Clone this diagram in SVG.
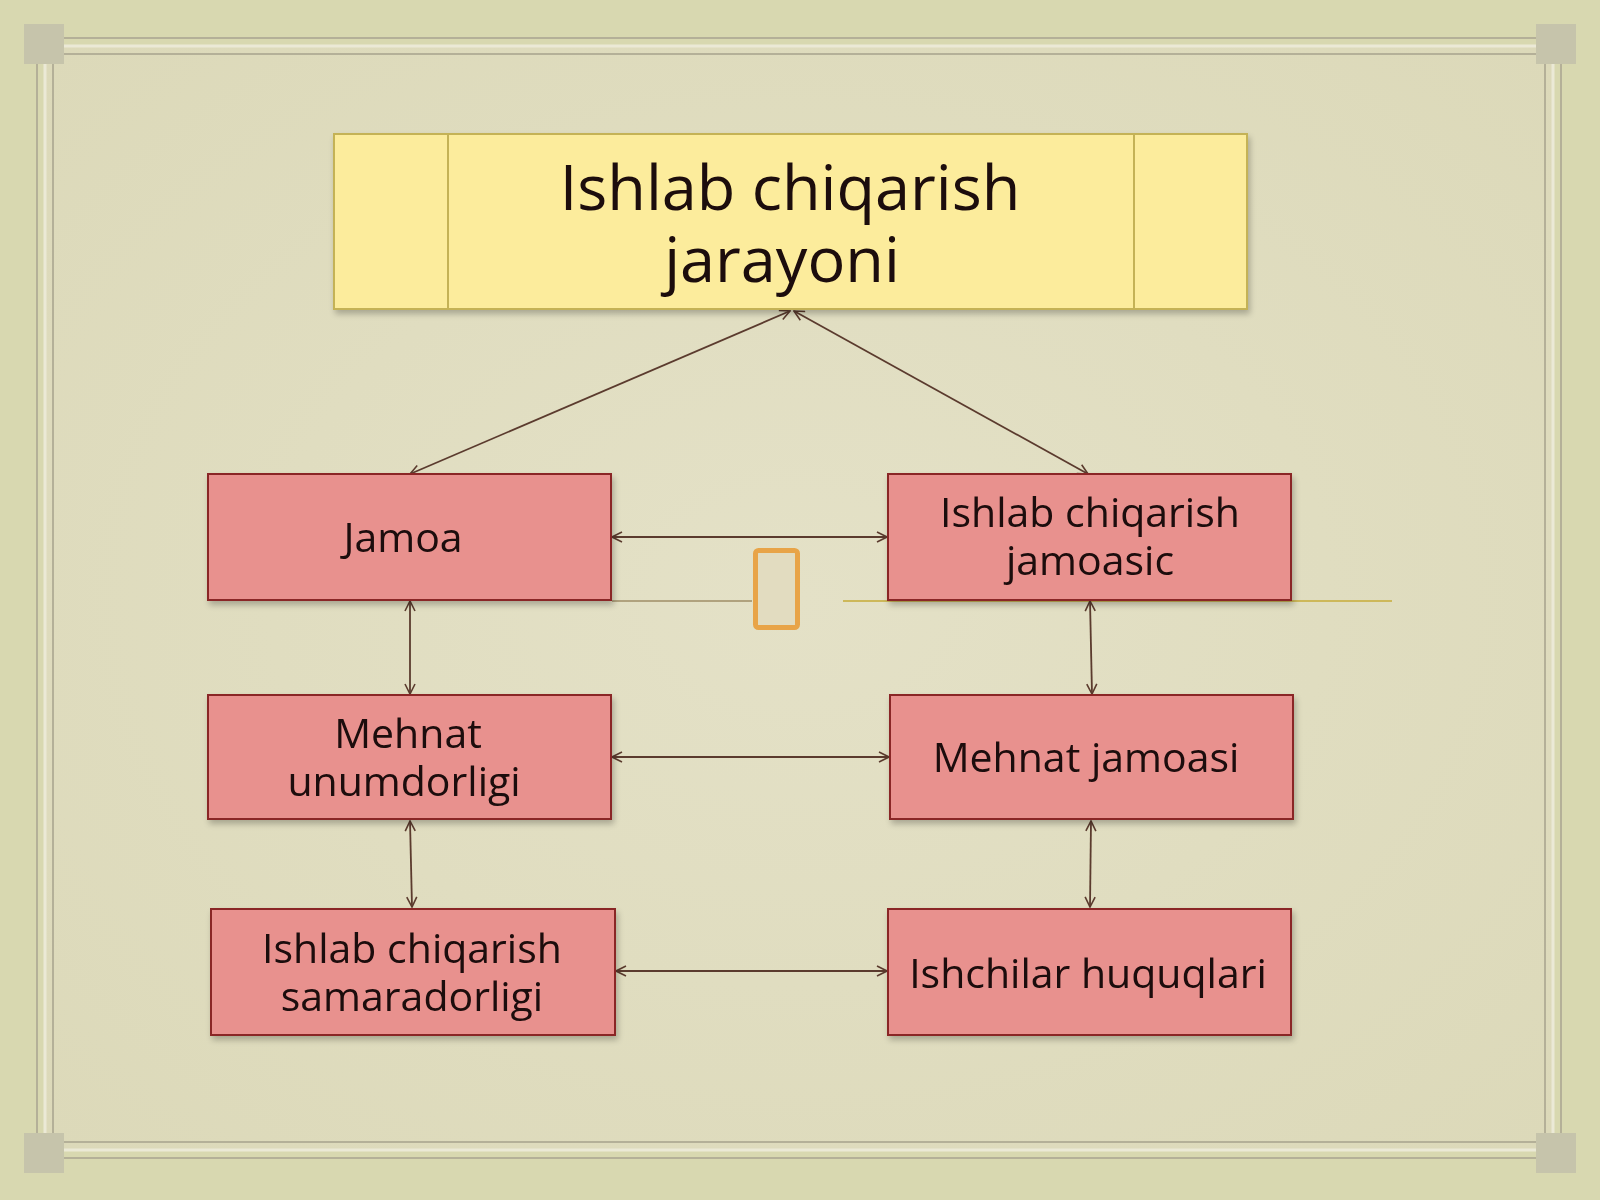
<svg xmlns="http://www.w3.org/2000/svg" width="1600" height="1200" viewBox="0 0 1600 1200">
<defs>
<radialGradient id="bg" cx="50%" cy="50%" r="70%">
<stop offset="0" stop-color="#e4e1c7"/>
<stop offset="1" stop-color="#dcd9b9"/>
</radialGradient>
<marker id="ar" viewBox="0 0 12 12" refX="11" refY="6" markerWidth="12" markerHeight="12" markerUnits="userSpaceOnUse" orient="auto-start-reverse">
<path d="M1,1 L11,6 L1,11" fill="none" stroke="#5b3b2e" stroke-width="1.6"/>
</marker>
<filter id="sh" x="-5%" y="-5%" width="110%" height="115%">
<feGaussianBlur in="SourceAlpha" stdDeviation="3"/>
<feOffset dx="2" dy="4"/>
<feComponentTransfer><feFuncA type="linear" slope="0.25"/></feComponentTransfer>
<feMerge><feMergeNode/><feMergeNode in="SourceGraphic"/></feMerge>
</filter>
</defs>
<style>
.red{fill:#e8918e;stroke:#8a2626;stroke-width:2}
.yel{fill:#fcec9c;stroke:#c4b257;stroke-width:2}
.t{font-family:"Open Sans","Noto Sans","DejaVu Sans",sans-serif;fill:#1a0a0a;text-anchor:middle}
.tb{font-size:41px}
.tt{font-size:63px}
.c{fill:none;stroke:#5b3b2e;stroke-width:1.8;marker-start:url(#ar);marker-end:url(#ar)}
.fr{fill:none;stroke:#b4b098;stroke-width:2}
.frl{fill:none;stroke:#ebe9d6;stroke-width:3}
.cor{fill:#c6c4ab}
</style>
<rect width="1600" height="1200" fill="#d8d8b0"/>
<rect x="45" y="46" width="1508" height="1104" fill="url(#bg)"/>
<g id="frame">
<rect x="37" y="38" width="1524" height="1120" class="fr"/>
<rect x="45" y="46" width="1508" height="1104" class="frl"/>
<rect x="53" y="54" width="1492" height="1088" class="fr"/>
<rect x="24" y="24" width="40" height="40" class="cor"/>
<rect x="1536" y="24" width="40" height="40" class="cor"/>
<rect x="24" y="1133" width="40" height="40" class="cor"/>
<rect x="1536" y="1133" width="40" height="40" class="cor"/>
</g>
<g id="decor">
<line x1="612" y1="601" x2="752" y2="601" stroke="#b0a27e" stroke-width="2"/>
<line x1="843" y1="601" x2="1392" y2="601" stroke="#cdb85a" stroke-width="2"/>
<rect x="755.5" y="550.5" width="42" height="77" rx="3" fill="#e2dcc0" stroke="#e8a448" stroke-width="5"/>
</g>
<g id="connectors">
<line class="c" x1="790" y1="311" x2="410" y2="474"/>
<line class="c" x1="794" y1="311" x2="1088" y2="474"/>
<line class="c" x1="612" y1="537" x2="887" y2="537"/>
<line class="c" x1="410" y1="601" x2="410" y2="694"/>
<line class="c" x1="1090" y1="601" x2="1092" y2="694"/>
<line class="c" x1="612" y1="757" x2="889" y2="757"/>
<line class="c" x1="410" y1="821" x2="412" y2="907"/>
<line class="c" x1="1091" y1="821" x2="1090" y2="907"/>
<line class="c" x1="616" y1="971" x2="887" y2="971"/>
</g>
<g id="n_title" filter="url(#sh)">
<rect x="334" y="134" width="913" height="175" class="yel"/>
<line x1="448" y1="134" x2="448" y2="309" stroke="#c4b257" stroke-width="2"/>
<line x1="1134" y1="134" x2="1134" y2="309" stroke="#c4b257" stroke-width="2"/>
<text class="t tt" x="790" y="210">Ishlab chiqarish</text>
<text class="t tt" x="782" y="282">jarayoni</text>
</g>
<g id="n_jamoa" filter="url(#sh)">
<rect x="208" y="474" width="403" height="126" class="red"/>
<text class="t tb" x="403" y="552">Jamoa</text>
</g>
<g id="n_ijamoasic" filter="url(#sh)">
<rect x="888" y="474" width="403" height="126" class="red"/>
<text class="t tb" x="1090" y="527">Ishlab chiqarish</text>
<text class="t tb" x="1090" y="575">jamoasic</text>
</g>
<g id="n_unum" filter="url(#sh)">
<rect x="208" y="695" width="403" height="124" class="red"/>
<text class="t tb" x="408" y="748">Mehnat</text>
<text class="t tb" x="404" y="796">unumdorligi</text>
</g>
<g id="n_mjamoasi" filter="url(#sh)">
<rect x="890" y="695" width="403" height="124" class="red"/>
<text class="t tb" x="1086" y="772">Mehnat jamoasi</text>
</g>
<g id="n_samara" filter="url(#sh)">
<rect x="211" y="909" width="404" height="126" class="red"/>
<text class="t tb" x="412" y="963">Ishlab chiqarish</text>
<text class="t tb" x="412" y="1011">samaradorligi</text>
</g>
<g id="n_ishchilar" filter="url(#sh)">
<rect x="888" y="909" width="403" height="126" class="red"/>
<text class="t tb" x="1088" y="988">Ishchilar huquqlari</text>
</g>
</svg>
